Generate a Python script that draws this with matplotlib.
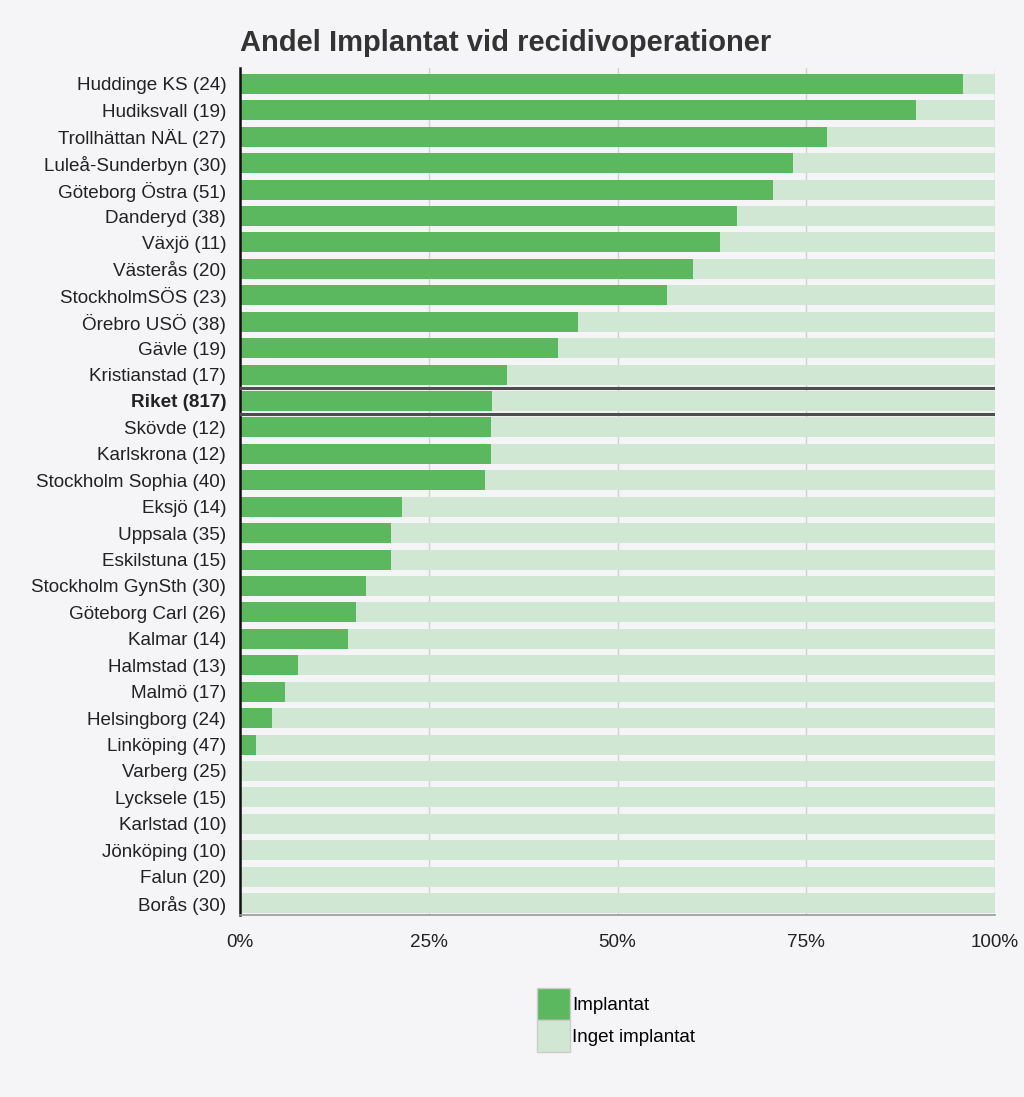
import numpy as np
import matplotlib.pyplot as plt
from matplotlib.patches import Patch

plt.rcParams["font.family"] = ["Liberation Sans", "DejaVu Sans"]

# ── data (share with implant, %) ──
clinics = [
    "Huddinge KS (24)", "Hudiksvall (19)", "Trollhättan NÄL (27)", "Luleå-Sunderbyn (30)",
    "Göteborg Östra (51)", "Danderyd (38)", "Växjö (11)", "Västerås (20)",
    "StockholmSÖS (23)", "Örebro USÖ (38)", "Gävle (19)", "Kristianstad (17)",
    "Riket (817)", "Skövde (12)", "Karlskrona (12)", "Stockholm Sophia (40)",
    "Eksjö (14)", "Uppsala (35)", "Eskilstuna (15)", "Stockholm GynSth (30)",
    "Göteborg Carl (26)", "Kalmar (14)", "Halmstad (13)", "Malmö (17)",
    "Helsingborg (24)", "Linköping (47)", "Varberg (25)", "Lycksele (15)",
    "Karlstad (10)", "Jönköping (10)", "Falun (20)", "Borås (30)",
]
implantat = [
    95.8, 89.5, 77.8, 73.3, 70.6, 65.8, 63.6, 60.0,
    56.5, 44.7, 42.1, 35.3, 33.4, 33.3, 33.3, 32.5,
    21.4, 20.0, 20.0, 16.7, 15.4, 14.3, 7.7, 5.9,
    4.2, 2.1, 0.0, 0.0, 0.0, 0.0, 0.0, 0.0,
]
inget = [100 - v for v in implantat]
highlight = "Riket (817)"

BG = "#f5f4f7"
DARK = "#5cb85f"
LIGHT = "#d0e8d3"
FS = 13.6

fig = plt.figure(figsize=(10.24, 10.97), dpi=100, facecolor=BG)
ax = fig.add_axes([0.2344, 0.1659, 0.7373, 0.7721], facecolor=BG)

y = np.arange(len(clinics))
ax.barh(y, implantat, height=0.76, color=DARK, zorder=2)
ax.barh(y, inget, left=implantat, height=0.76, color=LIGHT, zorder=2)

# separator lines around the national total
ri = clinics.index(highlight)
for yy in (ri - 0.5, ri + 0.5):
    ax.axhline(yy, color="#4d4d4d", lw=2.2, zorder=3)

ax.set_xlim(0, 100)
ax.set_ylim(len(clinics) - 0.55, -0.6)
ax.set_yticks(y)
ax.set_yticklabels(clinics, fontsize=FS, color="#222222")
for lbl in ax.get_yticklabels():
    if lbl.get_text() == highlight:
        lbl.set_fontweight("bold")
ax.set_xticks([0, 25, 50, 75, 100])
ax.set_xticklabels(["0%", "25%", "50%", "75%", "100%"], fontsize=FS, color="#222222")
ax.tick_params(axis="y", length=0, pad=10)
ax.tick_params(axis="x", length=0, pad=14)
ax.xaxis.grid(True, color="#d0d0d0", lw=1, zorder=0)

for s in ("top", "right"):
    ax.spines[s].set_visible(False)
ax.spines["left"].set_color("#111111")
ax.spines["left"].set_linewidth(1.8)
ax.spines["bottom"].set_color("#999999")
ax.spines["bottom"].set_linewidth(1.2)

fig.text(0.2344, 0.961, "Andel Implantat vid recidivoperationer", fontsize=21,
         fontweight="bold", color="#333333", ha="left", va="center")

handles = [Patch(facecolor=DARK, edgecolor="#cccccc", label="Implantat"),
           Patch(facecolor=LIGHT, edgecolor="#cccccc", label="Inget implantat")]
fig.legend(handles=handles, loc="center left", bbox_to_anchor=(0.5244, 0.0702),
           frameon=False, fontsize=FS, handlelength=1.75, handleheight=2.25,
           handletextpad=0.1, labelspacing=0.0, borderpad=0, borderaxespad=0)

fig.savefig("out.png", dpi=100, facecolor=BG)
